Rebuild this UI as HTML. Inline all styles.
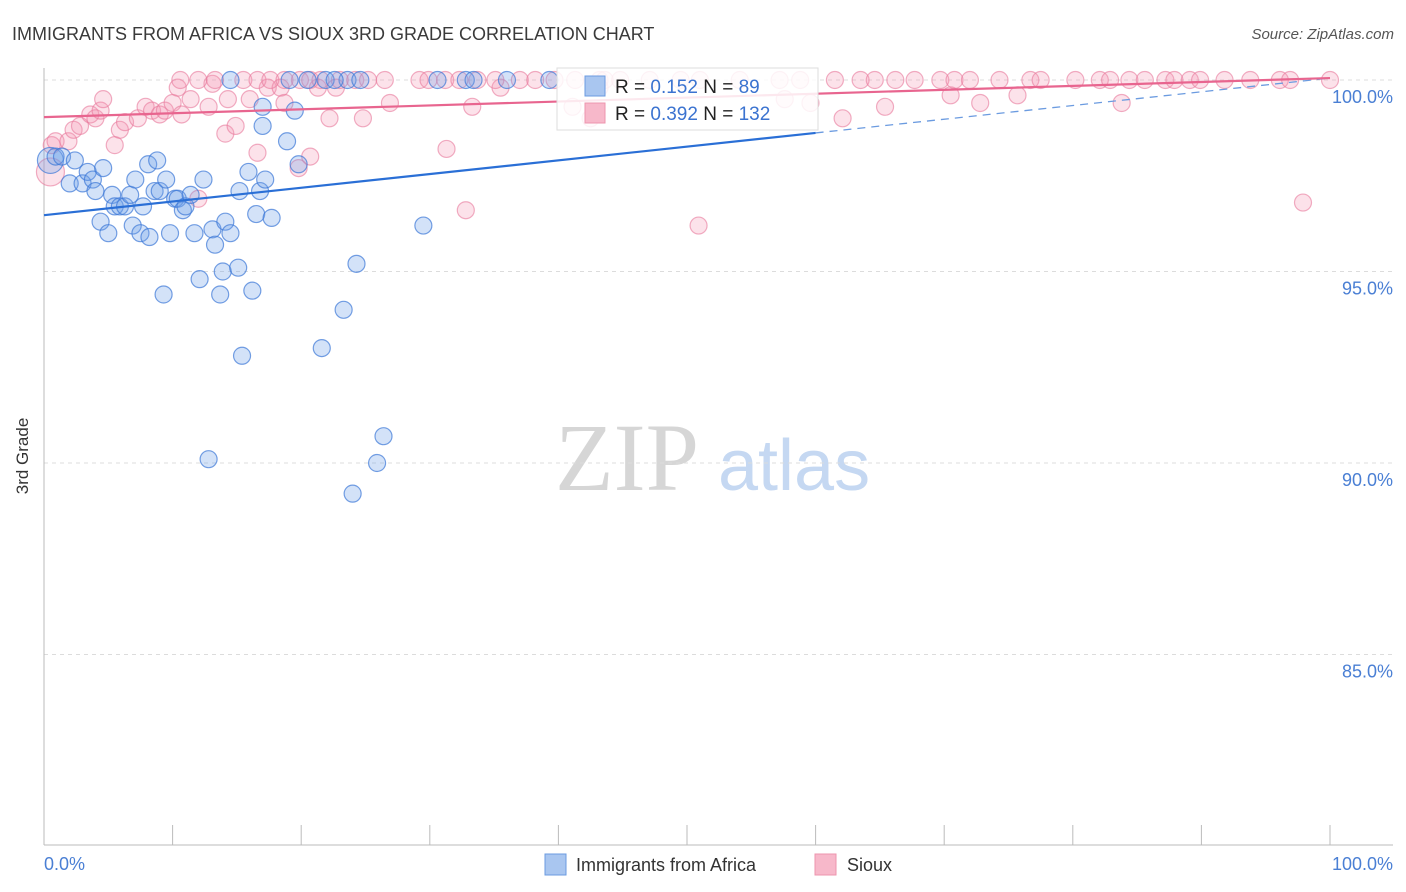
<!DOCTYPE html>
<html><head><meta charset="utf-8"><style>
body{margin:0;background:#fff;font-family:"Liberation Sans",sans-serif}
svg{display:block}
</style></head><body>
<svg id="chart" width="1406" height="892">
<text x="12" y="40" font-size="18" fill="#3a3a3a">IMMIGRANTS FROM AFRICA VS SIOUX 3RD GRADE CORRELATION CHART</text>
<text x="1394" y="39" font-size="15" fill="#555" font-style="italic" text-anchor="end">Source: ZipAtlas.com</text>
<text x="28" y="456" font-size="17" fill="#333" text-anchor="middle" transform="rotate(-90 28 456)">3rd Grade</text>
<g>
<text x="555" y="490" font-size="96" fill="#d6d6d6" font-family="Liberation Serif,serif">ZIP</text>
<text x="718" y="490" font-size="72" fill="#c5d8f2">atlas</text>
</g>
<g id="grid"></g><g id="axes"></g><g id="pts"></g><g id="lines"></g>
<g>
<rect x="557" y="68" width="261" height="62" fill="#fff" fill-opacity="0.85" stroke="#ddd"/>
<rect x="585" y="76" width="20" height="20" fill="#a9c6f0" stroke="#6b9be0"/>
<rect x="585" y="103" width="20" height="20" fill="#f7b8ca" stroke="#ee94ae"/>
<text x="615" y="93" font-size="19" fill="#222">R = <tspan fill="#3b73d0">0.152</tspan>   N = <tspan fill="#3b73d0"> 89</tspan></text>
<text x="615" y="120" font-size="19" fill="#222">R = <tspan fill="#3b73d0">0.392</tspan>   N = <tspan fill="#3b73d0">132</tspan></text>
</g>
<g>
<rect x="545" y="854" width="21" height="21" fill="#a9c6f0" stroke="#6b9be0"/>
<text x="576" y="871" font-size="18" fill="#333">Immigrants from Africa</text>
<rect x="815" y="854" width="21" height="21" fill="#f7b8ca" stroke="#ee94ae"/>
<text x="847" y="871" font-size="18" fill="#333">Sioux</text>
</g>
</svg>
<script>
const yTicks=[100,95,90,85];
const yTickLabels=["100.0%","95.0%","90.0%","85.0%"];
const xTicks=[0,10,20,30,40,50,60,70,80,90,100];
const blueX=[0.5,0.9,1.4,2.4,2.0,3.0,3.4,3.8,4.0,4.6,4.4,5.0,5.3,5.5,5.9,6.3,6.7,6.9,7.1,7.5,7.7,8.1,8.2,8.6,8.8,9.0,9.3,9.5,9.8,10.2,10.4,10.8,11.0,11.4,11.7,12.1,12.4,12.8,13.1,13.3,13.7,13.9,14.1,14.5,15.1,15.2,15.4,15.9,16.2,16.5,16.8,17.0,17.2,17.7,18.9,19.5,19.8,20.5,21.6,21.9,23.3,23.6,24.0,24.3,24.6,25.9,26.4,29.5,30.6,32.8,33.4,36.0,39.3,14.5,19.1,17.0,22.6];
const blueY=[97.9,98.0,98.0,97.9,97.3,97.3,97.6,97.4,97.1,97.7,96.3,96.0,97.0,96.7,96.7,96.7,97.0,96.2,97.4,96.0,96.7,97.8,95.9,97.1,97.9,97.1,94.4,97.4,96.0,96.9,96.9,96.6,96.7,97.0,96.0,94.8,97.4,90.1,96.1,95.7,94.4,95.0,96.3,96.0,95.1,97.1,92.8,97.6,94.5,96.5,97.1,99.3,97.4,96.4,98.4,99.2,97.8,100,93.0,100,94.0,100,89.2,95.2,100,90.0,90.7,96.2,100,100,100,100,100,100,100,98.8,100];
const pinkX=[0.5,0.6,0.9,1.9,2.3,2.8,3.6,4.0,4.4,4.6,5.5,5.9,6.3,7.3,7.9,8.4,9.0,9.4,10.0,10.4,10.7,11.4,12.0,12.8,13.1,14.1,14.3,14.9,16.0,16.6,17.4,18.4,18.7,19.8,20.7,21.3,22.2,22.7,24.8,26.9,31.3,32.8,33.3,35.5,41.1,42.5,43.2,50.9,57.6,59.6,62.1,65.4,70.5,72.8,75.7,83.8,97.9,
10.6,12.0,13.3,15.5,16.6,17.6,18.7,19.9,20.7,21.5,23.0,24.2,25.2,26.5,29.2,29.9,31.2,32.3,33.7,35.1,37.0,38.2,39.7,41.3,43.2,43.6,44.8,47.1,49.5,51.0,54.1,57.2,58.8,61.5,63.5,64.6,66.2,67.7,69.7,70.8,72.0,74.3,76.7,77.5,80.2,82.1,82.9,84.4,85.6,87.2,87.9,89.1,89.9,91.8,93.8,96.1,96.9,100];
const pinkY=[97.6,98.3,98.4,98.4,98.7,98.8,99.1,99.0,99.2,99.5,98.3,98.7,98.9,99.0,99.3,99.2,99.1,99.2,99.4,99.8,99.1,99.5,96.9,99.3,99.9,98.6,99.5,98.8,99.5,98.1,99.8,99.8,99.4,97.7,98.0,99.8,99.0,99.8,99.0,99.4,98.2,96.6,99.3,99.8,99.3,99.0,99.8,96.2,99.5,99.4,99.0,99.3,99.6,99.4,99.6,99.4,96.8,
100,100,100,100,100,100,100,100,100,100,100,100,100,100,100,100,100,100,100,100,100,100,100,100,100,100,100,100,100,100,100,100,100,100,100,100,100,100,100,100,100,100,100,100,100,100,100,100,100,100,100,100,100,100,100,100,100,100];
const blueLine=[96.47,100.05];
const pinkLine=[99.03,100.05];
const NS="http://www.w3.org/2000/svg";
const X=v=>44+v*12.86, Y=v=>80+(100-v)*38.3;
function mk(tag,attrs,parent){const e=document.createElementNS(NS,tag);for(const k in attrs)e.setAttribute(k,attrs[k]);parent.appendChild(e);return e;}
const grid=document.getElementById('grid'),axes=document.getElementById('axes'),pts=document.getElementById('pts'),lines=document.getElementById('lines');
yTicks.forEach((t,i)=>{
 const g=mk('line',{x1:44,x2:1393,y1:Y(t),y2:Y(t),stroke:'#dcdcdc','stroke-dasharray':'4 4'},grid);
 
 
 const l=mk('text',{x:1393,y:Y(t)+23,'font-size':18,fill:'#4a7fd4','text-anchor':'end'},axes);
 l.textContent=yTickLabels[i];
 
 
});
const ax=mk('line',{x1:44,x2:44,y1:68,y2:845,stroke:'#bbb'},axes);


const bx=mk('line',{x1:44,x2:1393,y1:845,y2:845,stroke:'#bbb'},axes);


xTicks.forEach(t=>{
 const k=mk('line',{x1:X(t),x2:X(t),y1:825,y2:845,stroke:'#bbb'},axes);
 
 
});
const xl0=mk('text',{x:44,y:870,'font-size':18,fill:'#4a7fd4'},axes);xl0.textContent='0.0%';


const xl1=mk('text',{x:1393,y:870,'font-size':18,fill:'#4a7fd4','text-anchor':'end'},axes);xl1.textContent='100.0%';


pinkX.forEach((v,i)=>{
 const c=mk('circle',{cx:X(v),cy:Y(pinkY[i]),r:i===0?14:8.5,fill:'rgba(244,150,178,0.28)',stroke:'rgba(232,120,155,0.6)','stroke-width':1.2},pts);
 
 
});
blueX.forEach((v,i)=>{
 const c=mk('circle',{cx:X(v),cy:Y(blueY[i]),r:i===0?13:8.5,fill:'rgba(110,160,232,0.3)',stroke:'rgba(60,120,215,0.7)','stroke-width':1.2},pts);
 
 
});
const bAt=x=>blueLine[0]+(blueLine[1]-blueLine[0])*x/100;
const b1=mk('line',{x1:X(0),y1:Y(bAt(0)),x2:X(60),y2:Y(bAt(60)),stroke:'#2a6fd6','stroke-width':2.2},lines);


const b2=mk('line',{x1:X(60),y1:Y(bAt(60)),x2:X(100),y2:Y(bAt(100)),stroke:'#6b9be0','stroke-width':1.3,'stroke-dasharray':'8 6'},lines);


const p1=mk('line',{x1:X(0),y1:Y(pinkLine[0]),x2:X(100),y2:Y(pinkLine[1]),stroke:'#e8658f','stroke-width':2.2},lines);


</script>
</body></html>
